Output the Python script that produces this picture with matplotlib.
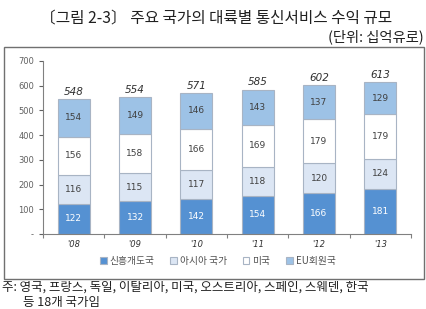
import numpy as np
import matplotlib.pyplot as plt
from matplotlib.patches import Rectangle

plt.rcParams['font.family'] = ['Noto Sans CJK KR', 'DejaVu Sans']

years = ["'08", "'09", "'10", "'11", "'12", "'13"]
emerging = [122, 132, 142, 154, 166, 181]
asia = [116, 115, 117, 118, 120, 124]
usa = [156, 158, 166, 169, 179, 179]
eu = [154, 149, 146, 143, 137, 129]
totals = [548, 554, 571, 585, 602, 613]
series_names = ["신흥개도국", "아시아 국가", "미국", "EU회원국"]

colors = ["#5591D2", "#DCE6F4", "#FFFFFF", "#9DC2E6"]
text_colors = ["white", "#404040", "#404040", "#404040"]

fig = plt.figure(figsize=(4.27, 3.09), dpi=100)
ax = fig.add_axes([0.1007, 0.2427, 0.862, 0.56])

x = np.arange(len(years))
bottom = np.zeros(len(years))
handles = []
for vals, col, tc, name in zip([emerging, asia, usa, eu], colors, text_colors, series_names):
    vals = np.array(vals)
    b = ax.bar(x, vals, 0.52, bottom=bottom, color=col, edgecolor="#A8B4C4",
               linewidth=0.8, label=name)
    handles.append(b)
    for xi, v, bt in zip(x, vals, bottom):
        ax.text(xi, bt + v / 2, f"{v}", ha="center", va="center",
                fontsize=6.5, color=tc, family="DejaVu Sans")
    bottom += vals

for xi, t in zip(x, totals):
    ax.text(xi, t + 8, f"{t}", ha="center", va="bottom", fontsize=7.5,
            style="italic", color="#303030", family="DejaVu Sans")

ax.set_xlim(-0.5, len(years) - 0.5)
ax.set_ylim(0, 700)
ax.set_yticks(range(0, 701, 100))
ax.set_yticklabels(["-"] + [str(v) for v in range(100, 701, 100)])
ax.set_xticks(np.arange(-0.5, len(years), 1.0), minor=False)
ax.set_xticklabels([])
ax.set_xticks(x, minor=True)
ax.set_xticklabels(years, minor=True, style="italic", fontsize=6,
                   family="DejaVu Sans", color="#303030")
ax.tick_params(axis="x", which="minor", length=0, pad=4)
ax.tick_params(axis="x", which="major", length=3, color="#808080")
ax.tick_params(axis="y", labelsize=6, colors="#606060", length=3)
for lab in ax.get_yticklabels():
    lab.set_family("DejaVu Sans")
for s in ["top", "right"]:
    ax.spines[s].set_visible(False)
ax.spines["left"].set_color("#808080")
ax.spines["bottom"].set_color("#808080")

leg = fig.legend(handles=handles, labels=series_names, loc="center",
                 bbox_to_anchor=(0.51, 0.155), ncol=4, frameon=False,
                 fontsize=7, handlelength=0.7, handleheight=0.7,
                 handletextpad=0.3, columnspacing=1.6)
for t in leg.get_texts():
    t.set_color("#505050")

fig.patches.append(Rectangle((0.01, 0.097), 0.983, 0.75, transform=fig.transFigure,
                             fill=False, edgecolor="#707070", linewidth=1.0))

fig.text(0.505, 0.942, "〔그림 2-3〕 주요 국가의 대륙별 통신서비스 수익 규모",
         ha="center", va="center", fontsize=11.3, color="#202020")
fig.text(0.993, 0.882, "(단위: 십억유로)", ha="right", va="center",
         fontsize=10.3, color="#202020")
fig.text(0.004, 0.092, "주: 영국, 프랑스, 독일, 이탈리아, 미국, 오스트리아, 스페인, 스웨덴, 한국",
         ha="left", va="top", fontsize=9, color="#202020")
fig.text(0.055, 0.0, "등 18개 국가임", ha="left", va="bottom",
         fontsize=9, color="#202020")

fig.savefig("out.png", dpi=100)
